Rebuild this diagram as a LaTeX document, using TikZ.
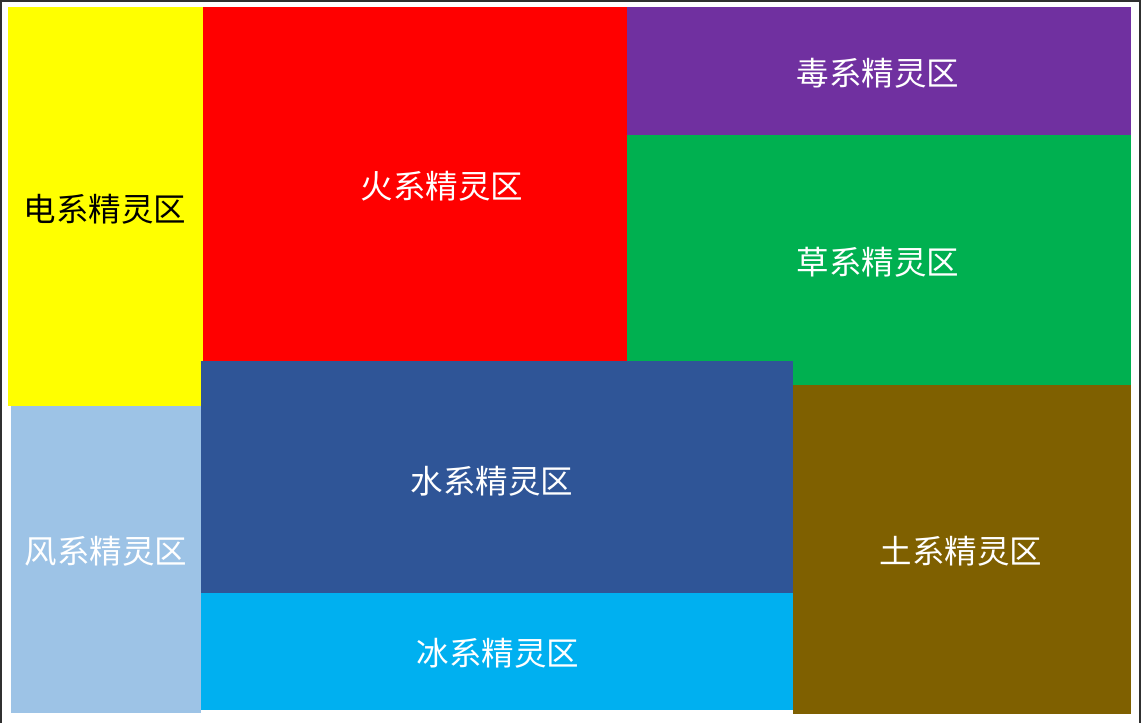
\documentclass[tikz,border=0pt]{standalone}
\usepackage{fontspec}
\newfontfamily\cjk{Noto Sans CJK SC}
\definecolor{elecY}{HTML}{FFFF00}
\definecolor{fireR}{HTML}{FF0000}
\definecolor{poisonP}{HTML}{7030A0}
\definecolor{grassG}{HTML}{00B050}
\definecolor{waterB}{HTML}{2F5597}
\definecolor{iceB}{HTML}{00B0F0}
\definecolor{earthB}{HTML}{7F6000}
\definecolor{windB}{HTML}{9DC3E6}
\definecolor{frameG}{HTML}{303030}

\begin{document}
\begin{tikzpicture}[x=1pt, y=-1pt,
  zone/.style={font=\cjk\fontsize{32.5}{32.5}\selectfont, text=white, inner sep=0pt},
  darkzone/.style={zone, text=black}]
  \useasboundingbox (0,0) rectangle (1141,723);
  \fill[white] (0,0) rectangle (1141,723);
  % outer frame
  \draw[frameG, line width=2pt] (1,723) -- (1,1) -- (1140,1) -- (1140,723);

  % regions
  \fill[elecY]   (8,7)     rectangle (203,406);
  \fill[fireR]   (203,7)   rectangle (627,361);
  \fill[poisonP] (627,7)   rectangle (1131,135);
  \fill[grassG]  (627,135) rectangle (1131,385);
  \fill[waterB]  (201,361) rectangle (793,593);
  \fill[iceB]    (201,593) rectangle (793,710);
  \fill[earthB]  (793,385) rectangle (1131,714);
  \fill[windB]   (11,406)  rectangle (201,713);

  % labels
  \node[darkzone] (elec)   at (105,209) {电系精灵区};
  \node[zone]     (fire)   at (442,186) {火系精灵区};
  \node[zone]     (poison) at (878,73)  {毒系精灵区};
  \node[zone]     (grass)  at (878,262) {草系精灵区};
  \node[zone]     (water)  at (492,481) {水系精灵区};
  \node[zone]     (wind)   at (106,551) {风系精灵区};
  \node[zone]     (ice)    at (498,653) {冰系精灵区};
  \node[zone]     (earth)  at (961,551) {土系精灵区};
\end{tikzpicture}
\end{document}
